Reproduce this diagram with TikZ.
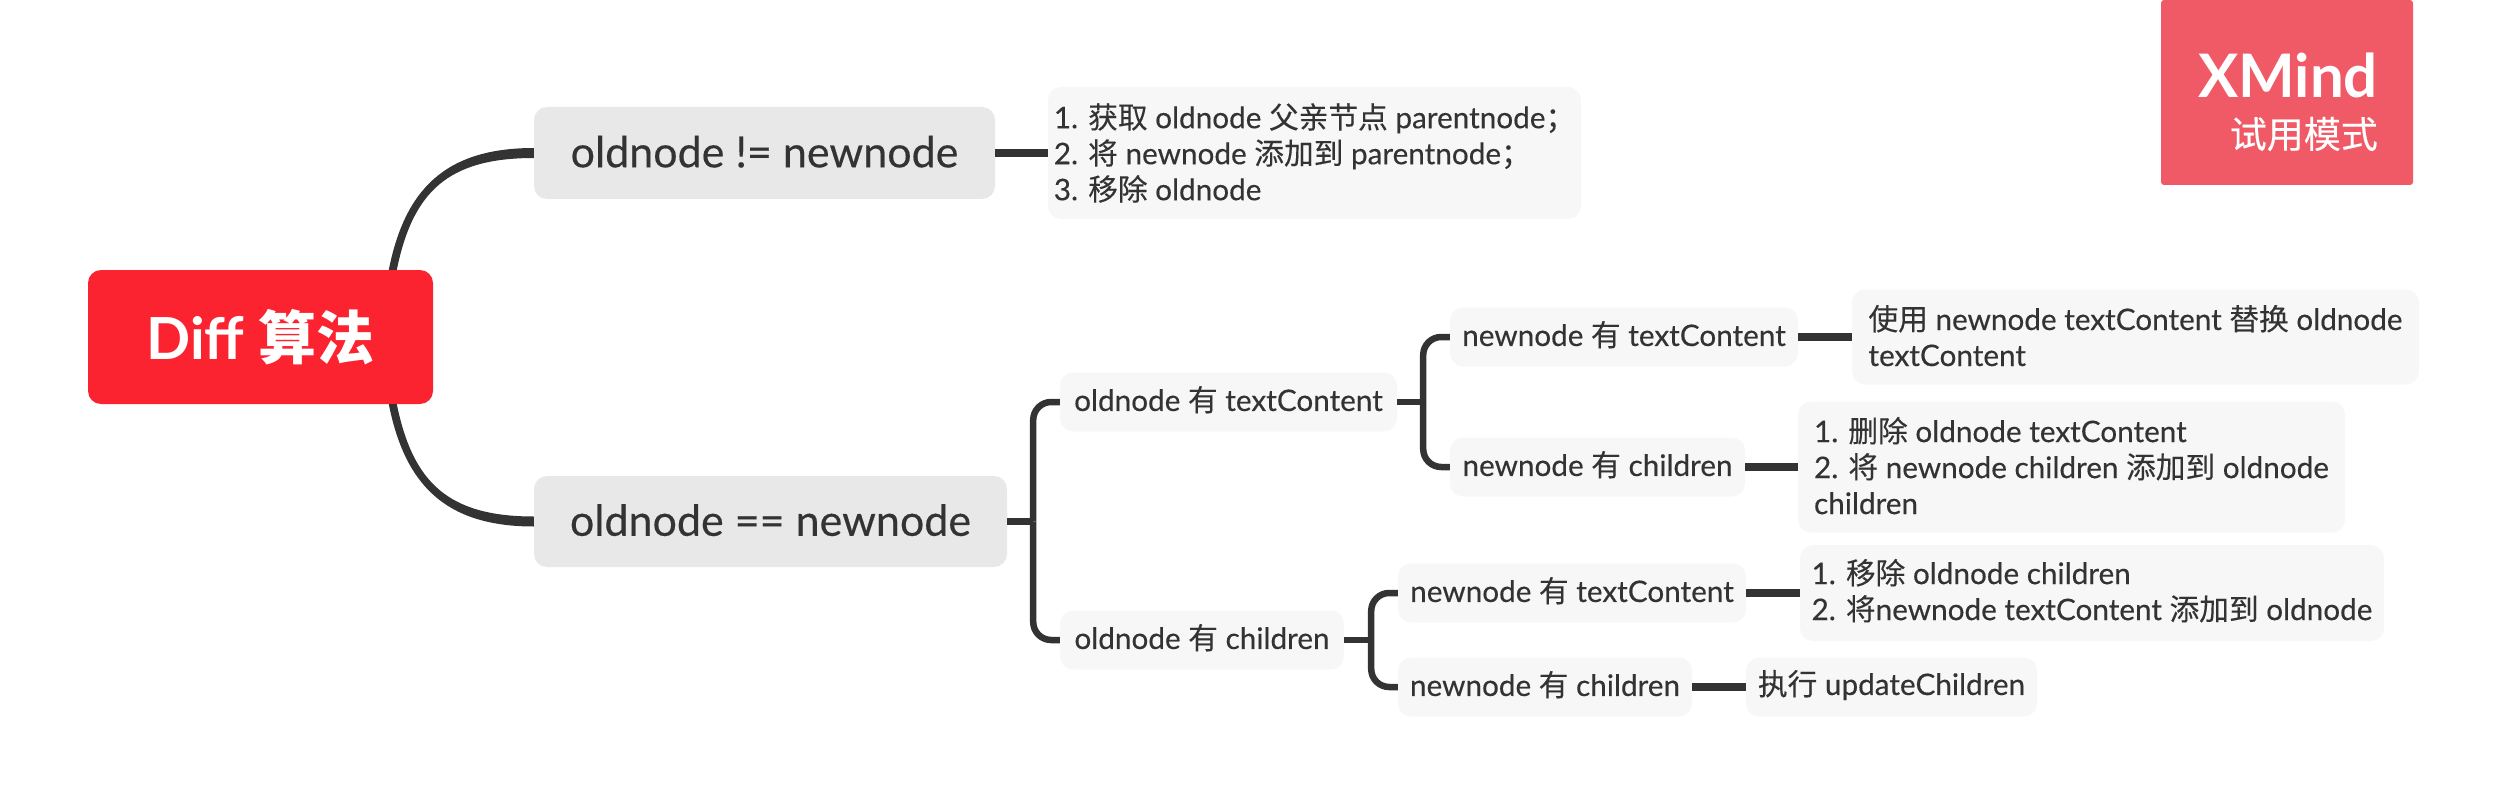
\documentclass[tikz,border=0pt]{standalone}
\usepackage{fontspec}
\setmainfont{Lato}[FakeBold=0.3,BoldFeatures={FakeBold=0}]
\newfontfamily\cjk{Noto Sans CJK SC}[FakeBold=0.2,BoldFeatures={FakeBold=0}]
\newcommand{\zh}[1]{{\cjk #1}}
\usetikzlibrary{calc}
\definecolor{ink}{HTML}{333333}
\definecolor{rootred}{HTML}{FB2330}
\definecolor{midgrey}{HTML}{E8E8E8}
\definecolor{lightgrey}{HTML}{F7F7F7}
\definecolor{markred}{HTML}{F05A66}
\tikzset{
  x=1pt,y=-1pt,
  box/.style={rounded corners=13pt,inner sep=0pt,text=ink,anchor=center},
  rootbox/.style={box,fill=rootred,text=white,font=\fontsize{58}{62}\selectfont\bfseries},
  mainbox/.style={box,fill=midgrey,text depth=3pt,font=\fontsize{43}{46}\selectfont},
  subbox/.style={box,fill=lightgrey,text depth=7pt,font=\fontsize{29.7}{36}\selectfont},
  notebox/.style={box,fill=lightgrey,align=left,font=\fontsize{29.7}{36}\selectfont},
  link/.style={draw=ink,line width=7.5pt},
  branch/.style={draw=ink,line width=6.5pt,rounded corners=18pt},
}
\begin{document}
\begin{tikzpicture}
\useasboundingbox (0,0) rectangle (2507,805);
\node[rootbox,minimum width=345pt,minimum height=134pt] (root) at (260.5,337) {Diff \zh{算法}};
\node[mainbox,minimum width=461pt,minimum height=92pt] (ne) at (764.5,153) {oldnode != newnode};
\node[mainbox,minimum width=473pt,minimum height=91pt] (eq) at (770.5,521.5) {oldnode == newnode};
\node[notebox,minimum width=533pt,minimum height=132pt] (neNote) at (1314.5,153)
  {1. \zh{获取} oldnode \zh{父亲节点} parentnode\zh{；}\\2. \zh{将} newnode \zh{添加到} parentnode\zh{；}\\3. \zh{移除} oldnode};
\node[subbox,minimum width=337pt,minimum height=59pt] (oldText) at (1228.5,402) {oldnode \zh{有} textContent};
\node[subbox,minimum width=284pt,minimum height=59pt] (oldKids) at (1202,640) {oldnode \zh{有} children};
\node[subbox,minimum width=348pt,minimum height=59pt] (newTextA) at (1624,337) {newnode \zh{有} textContent};
\node[subbox,minimum width=295pt,minimum height=59pt] (newKidsA) at (1597.5,467) {newnode \zh{有} children};
\node[subbox,minimum width=348pt,minimum height=59pt] (newTextB) at (1572,593) {newnode \zh{有} textContent};
\node[subbox,minimum width=294pt,minimum height=59pt] (newKidsB) at (1545,687) {newnode \zh{有} children};
\node[notebox,text depth=3pt,minimum width=567pt,minimum height=95pt] (noteA) at (2135.5,337)
  {\zh{使用} newnode textContent \zh{替换} oldnode\\textContent};
\node[notebox,text depth=3pt,minimum width=547pt,minimum height=131pt] (noteB) at (2071.5,467)
  {1. \zh{删除} oldnode textContent\\2. \zh{将} newnode children \zh{添加到} oldnode\\children};
\node[notebox,text depth=7pt,minimum width=584pt,minimum height=96pt] (noteC) at (2092,593)
  {1. \zh{移除} oldnode children\\2. \zh{将}newnode textContent \zh{添加到} oldnode};
\node[subbox,text depth=9pt,minimum width=291pt,minimum height=59pt] (noteD) at (1891.5,687) {\zh{执行} updateChildren};
\node[rectangle,rounded corners=3pt,fill=markred,minimum width=252pt,minimum height=185pt,inner sep=0pt] (mark) at (2287,92.5) {};
\node[anchor=base east,inner sep=0pt,text=white,font=\fontsize{60}{62}\selectfont\bfseries] (markA) at (2378,98) {XMind};
\node[anchor=base east,inner sep=0pt,text=white,font=\fontsize{37}{40}\selectfont] (markB) at (2378,148) {\zh{试用模式}};
% trunk junctions and root exits
\coordinate (rootTop) at ($(root.north west)+(305,0)$);
\coordinate (rootBot) at ($(root.south west)+(305,0)$);
\coordinate (jEq) at ($(eq.east)+(26,0)$);
\coordinate (jOld) at ($(oldText.east)+(26,0)$);
\coordinate (jKid) at ($(oldKids.east)+(27,0)$);
% tapered curves
\fill[ink] ($(rootTop)+(-4,0)$) .. controls +(16,-80) and ($(ne.west)+(-89,-5)$) .. ($(ne.west)+(0,-5)$)
  -- ($(ne.west)+(0,5)$) .. controls ($(ne.west)+(-86,5)$) and +(16,-78) .. ($(rootTop)+(4,0)$) -- cycle;
\fill[ink] ($(rootBot)+(-4,0)$) .. controls +(16,80) and ($(eq.west)+(-89,5)$) .. ($(eq.west)+(0,5)$)
  -- ($(eq.west)+(0,-5)$) .. controls ($(eq.west)+(-86,-5)$) and +(16,78) .. ($(rootBot)+(4,0)$) -- cycle;
% straight links
\draw[link] (ne.east) -- (neNote.west);
\draw[link] (newTextA.east) -- (newTextA.east -| noteA.west);
\draw[link] (newKidsA.east) -- (newKidsA.east -| noteB.west);
\draw[link] (newTextB.east) -- (newTextB.east -| noteC.west);
\draw[link] (newKidsB.east) -- (noteD.west);
% brackets
\draw[branch] (eq.east) -- (jEq);
\draw[branch] (jEq) |- (oldText.west);
\draw[branch] (jEq) |- (oldKids.west);
\draw[branch] (oldText.east) -- (jOld);
\draw[branch] (jOld) |- (newTextA.west);
\draw[branch] (jOld) |- (newKidsA.west);
\draw[branch] (oldKids.east) -- (jKid);
\draw[branch] (jKid) |- (newTextB.west);
\draw[branch] (jKid) |- (newKidsB.west);
\end{tikzpicture}
\end{document}
